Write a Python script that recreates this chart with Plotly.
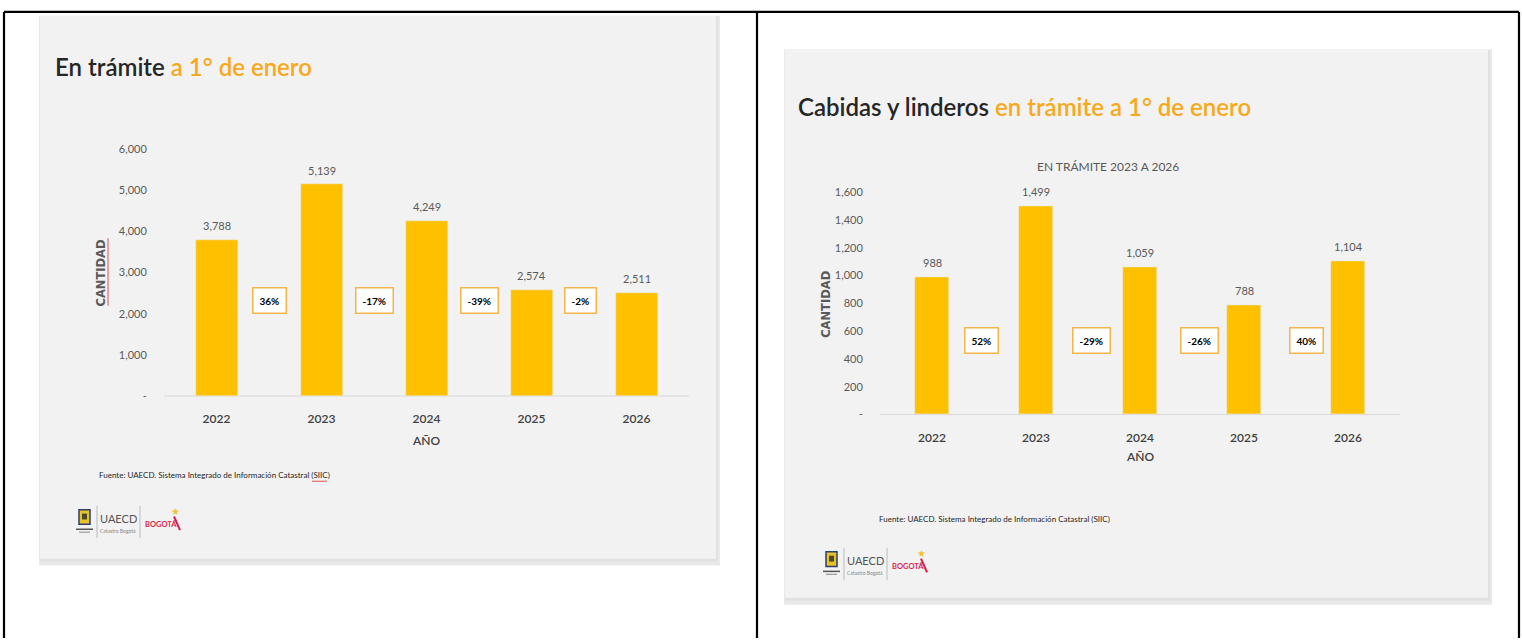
import plotly.graph_objects as go

# ---------------- data ----------------
years = ["2022", "2023", "2024", "2025", "2026"]
tramite_values = [3788, 5139, 4249, 2574, 2511]
tramite_changes = ["36%", "-17%", "-39%", "-2%"]
cabidas_values = [988, 1499, 1059, 788, 1104]
cabidas_changes = ["52%", "-29%", "-26%", "40%"]
left_ticks = [0, 1000, 2000, 3000, 4000, 5000, 6000]
left_ticktext = ["-", "1,000", "2,000", "3,000", "4,000", "5,000", "6,000"]
right_ticks = [0, 200, 400, 600, 800, 1000, 1200, 1400, 1600]
right_ticktext = ["-", "200", "400", "600", "800", "1,000", "1,200", "1,400", "1,600"]

# ---------------- layout constants ----------------
W, H = 1522, 644
FONT = "Lato, Roboto, sans-serif"
BAR = "#FFC000"
ORANGE = "#F6A91B"
DARK = "#262626"
GRAY = "#595959"
SLIDE = "#F2F2F2"


def X(px):
    return px / W


def Y(py):
    return 1 - py / H


def note(x, y, text, size, color, family=FONT, xanchor="center", yanchor="middle", **kw):
    d = dict(xref="paper", yref="paper", x=X(x), y=Y(y), xanchor=xanchor, yanchor=yanchor,
             showarrow=False, text=text, font=dict(family=family, size=size, color=color))
    d.update(kw)
    return d


fig = go.Figure()

fig.add_trace(go.Bar(x=years, y=tramite_values, marker_color=BAR, width=0.4,
                     xaxis="x", yaxis="y", showlegend=False, hoverinfo="x+y"))
fig.add_trace(go.Bar(x=years, y=cabidas_values, marker_color=BAR, width=0.32,
                     xaxis="x2", yaxis="y2", showlegend=False, hoverinfo="x+y"))

shapes = []
annotations = []

# table borders
for (x0, y0, x1, y1) in [(4, 5, 1519, 5), (4, 5, 4, 644), (757, 5, 757, 644), (1519, 5, 1519, 644)]:
    shapes.append(dict(type="line", xref="paper", yref="paper", x0=X(x0), y0=Y(y0), x1=X(x1), y1=Y(y1),
                       line=dict(color="black", width=2.2), layer="above"))

# slides with shadow
for (x0, y0, x1, y1) in [(40, 9, 716, 563), (785, 43, 1488, 603)]:
    shapes.append(dict(type="rect", xref="paper", yref="paper", x0=X(x0 - 1), y0=Y(y1 + 7), x1=X(x1 + 4), y1=Y(y0),
                       fillcolor="#E9E9E9", line_width=0, layer="below"))
    shapes.append(dict(type="rect", xref="paper", yref="paper", x0=X(x0), y0=Y(y1 + 3), x1=X(x1 + 2), y1=Y(y0 + 1),
                       fillcolor="#E1E1E1", line_width=0, layer="below"))
    shapes.append(dict(type="rect", xref="paper", yref="paper", x0=X(x0), y0=Y(y1), x1=X(x1), y1=Y(y0),
                       fillcolor=SLIDE, line_width=0, layer="below"))

# baselines
for (x0, x1, y) in [(164, 689, 397), (880, 1400, 416)]:
    shapes.append(dict(type="line", xref="paper", yref="paper", x0=X(x0), y0=Y(y), x1=X(x1), y1=Y(y),
                       line=dict(color="#D9D9D9", width=1), layer="below"))

# titles
tfont = dict(family=FONT, size=24, color=DARK, weight=600)
annotations.append(dict(xref="paper", yref="paper", x=X(53), y=Y(61), xanchor="left", yanchor="middle",
                        showarrow=False, font=tfont,
                        text="En trámite <span style='color:%s'>a 1° de enero</span>" % ORANGE))
annotations.append(dict(xref="paper", yref="paper", x=X(796), y=Y(102), xanchor="left", yanchor="middle",
                        showarrow=False, font=tfont,
                        text="Cabidas y linderos <span style='color:%s'>en trámite a 1° de enero</span>" % ORANGE))
annotations.append(note(1108, 163, "EN TRÁMITE 2023 A 2026", 12, GRAY))

# axis titles
for (x, y) in [(101, 271), (826, 304)]:
    annotations.append(note(x, y, "<b>CANTIDAD</b>", 11.5, GRAY, family="DejaVu Sans, sans-serif",
                            textangle=-90))
for (x, y) in [(426, 442), (1140, 459)]:
    a = note(x, y, "AÑO", 12, "#404040")
    a["font"]["weight"] = 600
    annotations.append(a)
# spell-check squiggle beside left CANTIDAD
shapes.append(dict(type="line", xref="paper", yref="paper", x0=X(108), y0=Y(236), x1=X(108), y1=Y(305),
                   line=dict(color="#E05050", width=1)))

# value labels
for xa, ya, vals in [("x", "y", tramite_values), ("x2", "y2", cabidas_values)]:
    for i, v in enumerate(vals):
        annotations.append(dict(xref=xa, yref=ya, x=i, y=v, xanchor="center", yanchor="bottom", yshift=6,
                                showarrow=False, font=dict(family=FONT, size=11, color=GRAY), text=f"{v:,}"))

# percent change boxes
left_box_pos = [0.5, 1.5, 2.5, 3.47]
right_box_pos = [0.48, 1.53, 2.57, 3.6]
for xa, labs, pos, ypos in [("x", tramite_changes, left_box_pos, 300),
                            ("x2", cabidas_changes, right_box_pos, 340)]:
    for lab, p in zip(labs, pos):
        annotations.append(dict(xref=xa, yref="paper", x=p, y=Y(ypos), xanchor="center", yanchor="middle",
                                showarrow=False,
                                font=dict(family=FONT, size=10, color="black"), text="<b>%s</b>" % lab,
                                bgcolor="white", bordercolor="#F3B54A", borderwidth=1.5, borderpad=6))

# sources
for (x, y) in [(97, 478), (877, 523)]:
    annotations.append(note(x, y, "Fuente: UAECD. Sistema Integrado de Información Catastral (SIIC)", 8, DARK,
                            xanchor="left"))
# spell-check squiggle under left (SIIC)
shapes.append(dict(type="line", xref="paper", yref="paper", x0=X(312), y0=Y(484), x1=X(327), y1=Y(484),
                   line=dict(color="#E05050", width=1)))

# logos
for (bx, by) in [(78, 512), (825, 555)]:
    # shield of Bogotá
    shapes.append(dict(type="rect", xref="paper", yref="paper", x0=X(bx + 1), y0=Y(by + 16),
                       x1=X(bx + 12), y1=Y(by + 1), fillcolor="#E8C22A",
                       line=dict(color="#2C3E6B", width=1.5)))
    shapes.append(dict(type="rect", xref="paper", yref="paper", x0=X(bx + 4), y0=Y(by + 11),
                       x1=X(bx + 9), y1=Y(by + 5), fillcolor="#4A4A2A", line_width=0))
    shapes.append(dict(type="line", xref="paper", yref="paper", x0=X(bx - 2), y0=Y(by + 21),
                       x1=X(bx + 15), y1=Y(by + 21), line=dict(color="#555", width=1.5)))
    shapes.append(dict(type="line", xref="paper", yref="paper", x0=X(bx + 1), y0=Y(by + 24),
                       x1=X(bx + 12), y1=Y(by + 24), line=dict(color="#888", width=1)))
    # dividers
    for dx in (19, 62):
        shapes.append(dict(type="line", xref="paper", yref="paper", x0=X(bx + dx), y0=Y(by - 3),
                           x1=X(bx + dx), y1=Y(by + 30), line=dict(color="#BBBBBB", width=1)))
    annotations.append(note(bx + 40, by + 10, "UAECD", 11, "#555555"))
    annotations.append(note(bx + 40, by + 23, "Catastro Bogotá", 5, "#888888"))
    annotations.append(note(bx + 65, by + 16, "<b>BOGOTÁ</b>", 7.5, "#D81F4F", xanchor="left"))
    annotations.append(note(bx + 97, by + 3, "★", 10, "#F2C12E", family="DejaVu Sans"))
    shapes.append(dict(type="line", xref="paper", yref="paper", x0=X(bx + 96), y0=Y(by + 8),
                       x1=X(bx + 102), y1=Y(by + 22), line=dict(color="#D81F4F", width=2)))

axis_common = dict(showgrid=False, zeroline=False, showline=False, fixedrange=True)
xtickfont = dict(family=FONT, size=12, color="#404040", weight=600)
ytickfont = dict(family=FONT, size=11, color=GRAY)

fig.update_layout(
    width=W, height=H, margin=dict(l=0, r=0, t=0, b=0),
    paper_bgcolor="white", plot_bgcolor="rgba(0,0,0,0)",
    font=dict(family=FONT, color=GRAY),
    bargap=0,
    xaxis=dict(domain=[X(164), X(689)], anchor="y", type="category", range=[-0.5, 4.5],
               ticks="outside", ticklen=12, tickcolor="rgba(0,0,0,0)", tickfont=xtickfont, **axis_common),
    yaxis=dict(domain=[Y(397), Y(145)], anchor="x", range=[0, 6000],
               tickvals=left_ticks, ticktext=left_ticktext,
               ticks="outside", ticklen=14, tickcolor="rgba(0,0,0,0)", tickfont=ytickfont, **axis_common),
    xaxis2=dict(domain=[X(880), X(1400)], anchor="y2", type="category", range=[-0.5, 4.5],
                ticks="outside", ticklen=12, tickcolor="rgba(0,0,0,0)", tickfont=xtickfont, **axis_common),
    yaxis2=dict(domain=[Y(416), Y(189)], anchor="x2", range=[0, 1600],
                tickvals=right_ticks, ticktext=right_ticktext,
                ticks="outside", ticklen=14, tickcolor="rgba(0,0,0,0)", tickfont=ytickfont, **axis_common),
    shapes=shapes,
    annotations=annotations,
)

fig.write_html("out.html", config={"displayModeBar": False},
               post_script="document.body.style.margin='0';document.body.style.overflow='hidden';")
